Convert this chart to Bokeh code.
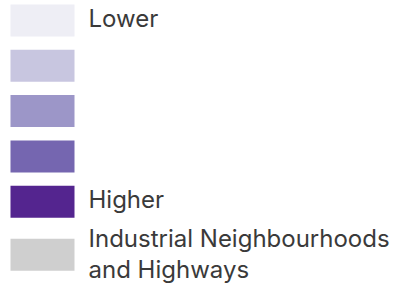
from bokeh.plotting import figure
from bokeh.models import Range1d, ColumnDataSource
from bokeh.core.properties import value
from bokeh.embed import file_html
from bokeh.resources import INLINE

# Legend data
classes = ["Lower", "", "", "", "Higher", "Industrial Neighbourhoods\nand Highways"]
colors = ["#eeeef5", "#c8c6e0", "#9c96c8", "#7566b0", "#54258f", "#cfcfcf"]

W, H = 400, 290
p = figure(width=W, height=H, output_backend="svg", toolbar_location=None,
           x_range=Range1d(0, W), y_range=Range1d(H, 0),
           min_border=0, outline_line_color=None)
p.axis.visible = False
p.grid.visible = False
p.background_fill_color = "white"

tops = []
y = 4
for i in range(len(classes)):
    tops.append(y)
    y += 45.3 if i < 4 else 53
sw_h = 32
src = ColumnDataSource(dict(
    left=[10] * len(classes), right=[74] * len(classes),
    top=tops, bottom=[t + sw_h for t in tops], color=colors))
p.quad(left="left", right="right", top="top", bottom="bottom",
       fill_color="color", line_color=None, source=src)

lx, ly, lt = [], [], []
for i, c in enumerate(classes):
    if not c:
        continue
    lines = c.split("\n")
    base = tops[i] + 14 if len(lines) == 1 else tops[i] + 0
    for j, ln in enumerate(lines):
        lx.append(88)
        ly.append(base + j * 31)
        lt.append(ln)
p.text(x=lx, y=ly, text=lt, text_font=value("Inter"), text_font_size="24px",
       text_color="#3a3a3a", text_baseline="alphabetic", text_align="left")

open("out.html", "w").write(file_html(p, INLINE))
